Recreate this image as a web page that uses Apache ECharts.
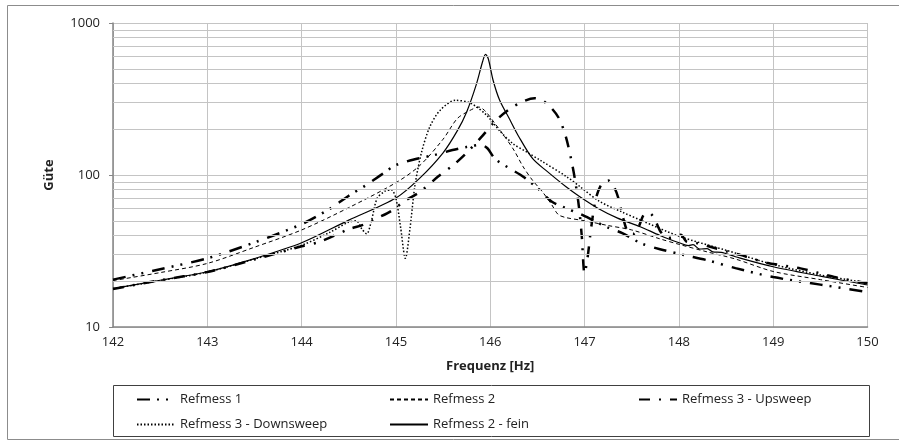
<!DOCTYPE html>
<html>
<head>
<meta charset="utf-8">
<script src="https://cdn.jsdelivr.net/npm/echarts@6/dist/echarts.min.js"></script>
<style>
  html, body { margin: 0; padding: 0; background: #fff; }
  #chart { width: 899px; height: 443px; }
</style>
</head>
<body>
<div id="chart"></div>
<script>
// Werte: [Frequenz Hz, Güte]
const refmess1 = [[142,20.5],[142.5,24],[143,28.3],[143.5,36],[144,47.5],[144.3,60],[144.5,73],[144.7,87],[144.85,101],[145,116],[145.2,127],[145.4,135],[145.6,146],[145.75,153],[145.9,158],[145.97,150],[146.05,128],[146.2,111],[146.35,97.5],[146.5,82],[146.65,67],[146.8,60.5],[146.95,55.5],[147.1,50],[147.25,45],[147.4,41.5],[147.6,35.5],[147.8,32.5],[148.05,29.8],[148.3,27.5],[148.6,24.4],[149,21.3],[149.5,19],[150,17]];
const refmess2 = [[142,20.2],[142.5,22.8],[143,26.2],[143.5,33.5],[144,43.5],[144.5,61],[145,89],[145.25,115],[145.5,172],[145.65,235],[145.78,265],[145.88,280],[145.95,262],[146.05,218],[146.15,180],[146.25,146],[146.35,113],[146.45,92],[146.55,78],[146.65,64],[146.72,55],[146.8,52.5],[147,50],[147.25,46.5],[147.5,43.5],[147.8,38],[148,35],[148.3,31.2],[148.6,28],[149,23.2],[149.5,20.5],[150,18.2]];
const refmess3Up = [[142,17.8],[142.5,20.3],[143,23],[143.5,27.8],[144,34],[144.2,36.5],[144.5,44],[144.65,47],[144.8,52],[144.95,58],[145.1,68],[145.25,77],[145.45,98],[145.6,115],[145.75,140],[145.9,176],[146.05,225],[146.2,270],[146.35,305],[146.47,320],[146.55,310],[146.65,275],[146.73,235],[146.8,180],[146.86,125],[146.9,92],[146.94,62],[146.97,40],[147,22.5],[147.03,28],[147.07,45],[147.12,70],[147.18,87],[147.25,92],[147.31,84],[147.36,70],[147.41,52],[147.46,42],[147.52,41],[147.57,45],[147.63,55],[147.69,56],[147.75,50],[147.81,42],[147.88,38.5],[147.95,39],[148.02,40.5],[148.08,36.5],[148.2,35.5],[148.35,33.5],[148.5,31.5],[148.65,29.8],[148.93,26.5],[149.29,24.3],[149.64,21.4],[150,19.4]];
const refmess3Down = [[142,17.9],[142.5,20.2],[143,23],[143.5,28],[144,34.5],[144.3,42],[144.5,49],[144.58,50],[144.64,44],[144.69,41],[144.74,50],[144.8,70],[144.88,78],[144.95,80],[145,70],[145.05,45],[145.1,28.3],[145.15,45],[145.2,84],[145.27,140],[145.36,208],[145.47,267],[145.63,310],[145.79,297],[145.96,248],[146.1,195],[146.24,161],[146.4,140],[146.53,125],[146.81,97.5],[146.95,84],[147.16,67],[147.4,57],[147.59,50.6],[148.01,39.4],[148.5,32],[149,25.8],[149.5,22],[150,19.5]];
const refmess2Fein = [[142,17.9],[142.5,20.3],[143,23.1],[143.5,28.2],[144,35.8],[144.5,50.5],[145,70.6],[145.25,95],[145.5,140],[145.65,195],[145.75,260],[145.85,390],[145.92,560],[145.95,621],[145.98,580],[146.03,420],[146.1,310],[146.2,236],[146.3,180],[146.45,128],[146.6,106],[146.8,84],[146.95,72],[147.16,59.5],[147.35,52],[147.59,45.7],[147.8,40],[148.01,35.7],[148.1,34.3],[148.15,34.8],[148.22,32.6],[148.3,32.8],[148.36,31.2],[148.45,31],[148.6,29],[149,24.9],[149.5,21.6],[150,18.9]];

// Legende in drei Spalten wie im Original
const legendCol1 = ['Refmess 1', 'Refmess 3 - Downsweep'];
const legendCol2 = ['Refmess 2', 'Refmess 2 - fein'];
const legendCol3 = ['Refmess 3 - Upsweep'];
// Hilfslinien der logarithmischen Achse
const minorGrid = [20, 30, 40, 50, 60, 70, 80, 90, 200, 300, 400, 500, 600, 700, 800, 900];

const FONT = 'Open Sans';
const chart = echarts.init(document.getElementById('chart'));

function line(name, data, width, dash) {
    return {
        name: name,
        type: 'line',
        data: data,
        showSymbol: false,
        symbol: 'none',
        smooth: 0.3,
        z: 3,
        lineStyle: { color: '#000', width: width, type: dash, cap: 'butt' },
        itemStyle: { color: '#000' }
    };
}

function legendCol(names, left) {
    return {
        data: names,
        left: left, top: 388,
        orient: 'vertical',
        itemWidth: 38, itemHeight: 14, itemGap: 12,
        itemStyle: { opacity: 0 },
        textStyle: { fontFamily: FONT, fontSize: 13, color: '#222' },
        selectedMode: false
    };
}

chart.setOption({
    animation: false,
    textStyle: { fontFamily: FONT },
    grid: { left: 113, right: 31.5, top: 23, bottom: 116, containLabel: false },
    xAxis: {
        type: 'value',
        min: 142, max: 150, interval: 1,
        name: 'Frequenz [Hz]',
        nameLocation: 'middle',
        nameGap: 33,
        nameTextStyle: { fontFamily: FONT, fontSize: 13, fontWeight: 'bold', color: '#222' },
        axisLine: { lineStyle: { color: '#868686', width: 1.5 } },
        axisTick: { show: false },
        axisLabel: { margin: 9, fontFamily: FONT, fontSize: 13, color: '#222' },
        splitLine: { show: true, lineStyle: { color: '#c4c4c4', width: 1 } }
    },
    yAxis: {
        type: 'log',
        logBase: 10,
        min: 10, max: 1000,
        name: 'Güte',
        nameLocation: 'middle',
        nameGap: 57,
        nameTextStyle: { fontFamily: FONT, fontSize: 13, fontWeight: 'bold', color: '#222' },
        axisLine: { show: true, lineStyle: { color: '#868686', width: 1.5 } },
        axisTick: { show: true, length: 4, lineStyle: { color: '#868686' } },
        axisLabel: { margin: 13, fontFamily: FONT, fontSize: 13, color: '#222', formatter: v => String(Math.round(v)) },
        splitLine: { show: true, lineStyle: { color: '#c4c4c4', width: 1 } }
    },
    legend: [
        legendCol(legendCol1, 131),
        legendCol(legendCol2, 384),
        legendCol(legendCol3, 633)
    ],
    graphic: [
        { type: 'rect', shape: { x: 7.5, y: 5.5, width: 900, height: 434 }, style: { fill: 'none', stroke: '#8c8c8c', lineWidth: 1 }, silent: true, z: -1 },
        { type: 'rect', shape: { x: 113.5, y: 385.5, width: 756, height: 51 }, style: { fill: 'none', stroke: '#404040', lineWidth: 1 }, silent: true }
    ],
    series: [
        {
            name: 'grid-minor',
            type: 'line',
            data: [],
            z: 1,
            silent: true,
            markLine: {
                silent: true,
                symbol: 'none',
                label: { show: false },
                lineStyle: { color: '#c4c4c4', width: 1, type: 'solid' },
                data: minorGrid.map(v => ({ yAxis: v }))
            }
        },
        line('Refmess 1', refmess1, 2.5, [13, 7, 2, 7, 2, 9]),
        line('Refmess 2', refmess2, 1, [4, 3]),
        line('Refmess 3 - Upsweep', refmess3Up, 2.5, [11, 9, 2, 9]),
        line('Refmess 3 - Downsweep', refmess3Down, 1.5, [1.5, 2]),
        line('Refmess 2 - fein', refmess2Fein, 1.2, 'solid')
    ]
});
</script>
</body>
</html>
